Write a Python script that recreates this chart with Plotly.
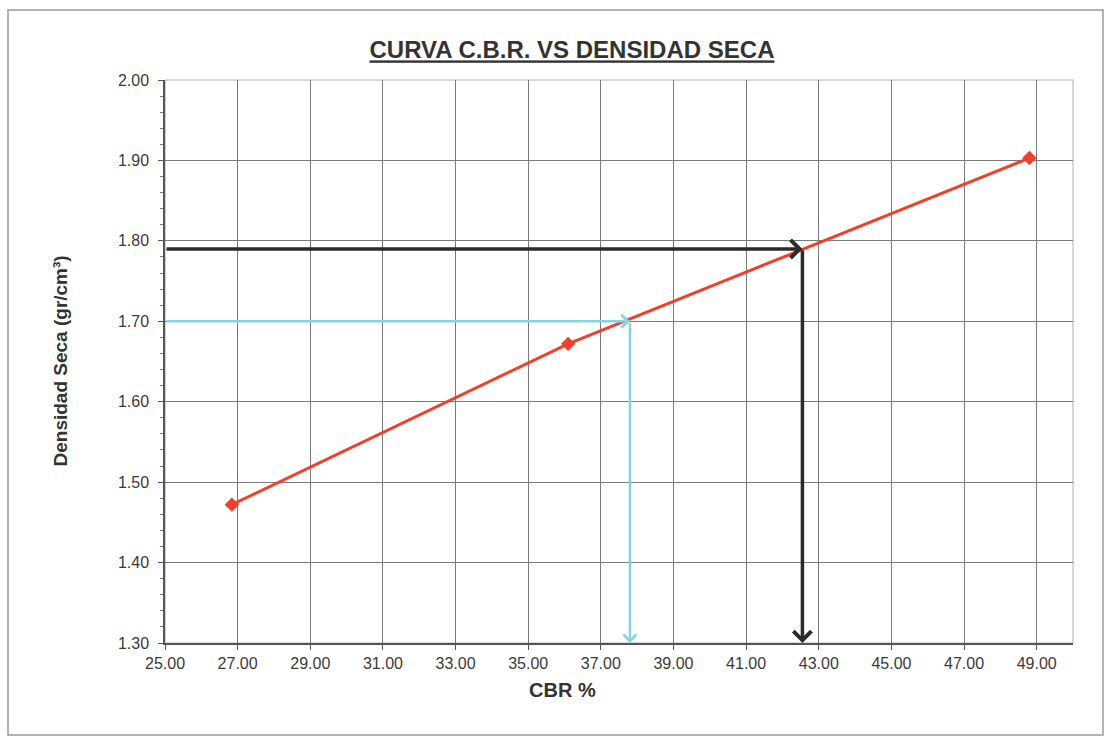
import plotly.graph_objects as go

# Data
cbr = [26.84, 36.10, 48.80]
densidad = [1.472, 1.672, 1.903]

# Reading lines (design density -> CBR)
black_density = 1.79
black_cbr = 42.55
cyan_density = 1.70
cyan_cbr = 37.80
x_min, x_max = 25.0, 50.0
y_min, y_max = 1.30, 2.00

x_ticks = [25, 27, 29, 31, 33, 35, 37, 39, 41, 43, 45, 47, 49]
y_ticks = [1.30, 1.40, 1.50, 1.60, 1.70, 1.80, 1.90, 2.00]

W, H = 1107, 738
L, R, T, B = 165, 34, 80, 95

fig = go.Figure()

fig.add_trace(go.Scatter(
    x=cbr, y=densidad, mode="lines+markers",
    line=dict(color="#f0402a", width=3),
    marker=dict(symbol="diamond", size=11, color="#f0402a"),
    showlegend=False, hoverinfo="x+y",
))

def arrow(x0, y0, x1, y1, color, width):
    fig.add_annotation(
        x=x1, y=y1, ax=x0, ay=y0, xref="x", yref="y", axref="x", ayref="y",
        showarrow=True, arrowhead=4, arrowsize=1.0, arrowwidth=width,
        arrowcolor=color, text="", standoff=0,
    )

# cyan reading lines
arrow(x_min, cyan_density, cyan_cbr, cyan_density, "#86d4e2", 2.5)
arrow(cyan_cbr, cyan_density, cyan_cbr, y_min, "#86d4e2", 2.5)
# black reading lines
arrow(x_min, black_density, black_cbr, black_density, "#2b2b2b", 3.5)
arrow(black_cbr, black_density, black_cbr, y_min, "#2b2b2b", 3.5)

fig.update_layout(
    width=W, height=H,
    margin=dict(l=L, r=R, t=T, b=B),
    paper_bgcolor="white", plot_bgcolor="white",
    font=dict(family="Liberation Sans, Arial, sans-serif", color="#333333"),
    title=dict(
        text="<b><u>CURVA C.B.R. VS DENSIDAD SECA</u></b>",
        x=572 / W, xanchor="center", y=1 - 50 / H, yanchor="middle",
        font=dict(size=24, color="#333333"),
    ),
    showlegend=False,
)

fig.update_xaxes(
    range=[x_min, x_max], tickmode="array", tickvals=x_ticks,
    ticktext=[f"{v:.2f}" for v in x_ticks],
    showgrid=True, gridcolor="#7a7a7a", gridwidth=1,
    showline=True, linecolor="#555555", linewidth=1.5, mirror=False,
    ticks="outside", ticklen=5, tickcolor="#555555",
    tickfont=dict(size=16, color="#3a3a3a"), zeroline=False,
)
fig.update_yaxes(
    range=[y_min, y_max], tickmode="array", tickvals=y_ticks,
    ticktext=[f"{v:.2f}" for v in y_ticks],
    showgrid=True, gridcolor="#7a7a7a", gridwidth=1,
    showline=True, linecolor="#555555", linewidth=1.5, mirror=False,
    ticks="outside", ticklen=5, tickcolor="#555555",
    tickfont=dict(size=16, color="#3a3a3a"), zeroline=False,
    ticklabelstandoff=6,
    minor=dict(ticks="outside", ticklen=3, tickcolor="#777777", dtick=0.02, tick0=1.30, showgrid=False),
)

# plot border (top and right)
fig.add_shape(type="rect", xref="paper", yref="paper", x0=0, x1=1, y0=0, y1=1,
              line=dict(color="#b0b0b0", width=1), layer="below")

# axis titles
fig.add_annotation(text="<b>CBR %</b>", xref="paper", yref="paper",
                   x=(562 - L) / (W - L - R), y=-(690 - (H - B)) / (H - T - B),
                   showarrow=False, font=dict(size=20, color="#333333"),
                   xanchor="center", yanchor="middle")
fig.add_annotation(text="<b>Densidad Seca (gr/cm³)</b>", xref="paper", yref="paper",
                   x=-(L - 60) / (W - L - R), y=0.5, textangle=-90,
                   showarrow=False, font=dict(size=19, color="#333333"),
                   xanchor="center", yanchor="middle")

# outer frame
fig.add_shape(type="rect", xref="paper", yref="paper",
              x0=-(L - 8) / (W - L - R), x1=1 + (1103 - (W - R)) / (W - L - R),
              y0=-(735 - (H - B)) / (H - T - B), y1=1 + (T - 10) / (H - T - B),
              line=dict(color="#9a9a9a", width=1.5))

fig.write_html("out.html")
